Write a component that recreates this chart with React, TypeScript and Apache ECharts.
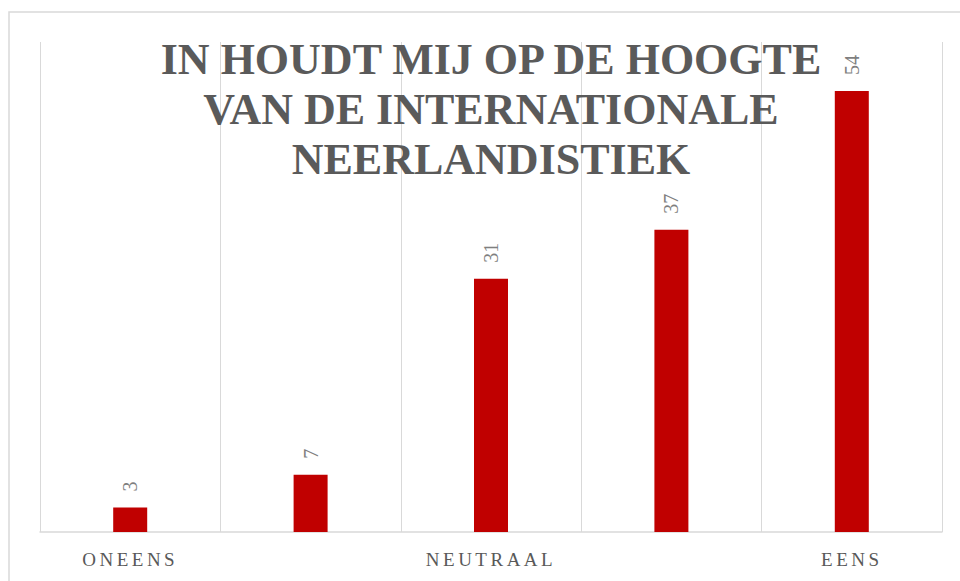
import React, { useEffect, useRef } from "react";
import * as echarts from "echarts";

const categories = ["ONEENS", "", "NEUTRAAL", "", "EENS"];
const values = [3, 7, 31, 37, 54];
const titleLines = ["IN HOUDT MIJ OP DE HOOGTE", "VAN DE INTERNATIONALE", "NEERLANDISTIEK"];

export default function App() {
  const ref = useRef<HTMLDivElement>(null);
  useEffect(() => {
    if (!ref.current) return;
    const chart = echarts.init(ref.current, null, { renderer: "svg" });
    chart.setOption({
      animation: false,
      backgroundColor: "#ffffff",
      graphic: [
        {
          type: "rect",
          shape: { x: 9, y: 12, width: 1000, height: 700 },
          style: { fill: "none", stroke: "#d9d9d9", lineWidth: 1.5 },
          silent: true,
          z: -1,
        },
      ],
      title: {
        text: titleLines.join("\n"),
        left: 486,
        top: 29,
        textAlign: "center",
        textStyle: {
          fontFamily: "Liberation Serif",
          fontWeight: "bold",
          fontSize: 44,
          lineHeight: 50,
          color: "#5a5a5a",
        },
        z: 10,
      },
      grid: { left: 40, right: 18, top: 42, bottom: 49, containLabel: false },
      xAxis: {
        type: "category",
        data: categories,
        boundaryGap: true,
        axisLine: { lineStyle: { color: "#d9d9d9", width: 1.5 } },
        axisTick: { show: false },
        splitLine: { show: true, lineStyle: { color: "#d9d9d9", width: 1 } },
        axisLabel: {
          interval: 0,
          margin: 18,
          color: "#595959",
          fontFamily: "Liberation Serif",
          fontSize: 19,
        },
      },
      yAxis: {
        type: "value",
        min: 0,
        max: 60,
        show: false,
        splitLine: { show: false },
      },
      series: [
        {
          type: "bar",
          data: values,
          barWidth: 34,
          itemStyle: { color: "#c00000" },
          label: {
            show: true,
            position: "top",
            rotate: 90,
            align: "left",
            verticalAlign: "middle",
            distance: 16,
            color: "#7f7f7f",
            fontFamily: "Liberation Serif",
            fontSize: 20,
          },
        },
      ],
    });
    return () => chart.dispose();
  }, []);
  return (
    <>
      <style>{'svg text[fill="#595959"] { letter-spacing: 3.5px; }'}</style>
      <div
        ref={ref}
        style={{ position: "absolute", left: 0, top: 0, width: 960, height: 581 }}
      />
    </>
  );
}
